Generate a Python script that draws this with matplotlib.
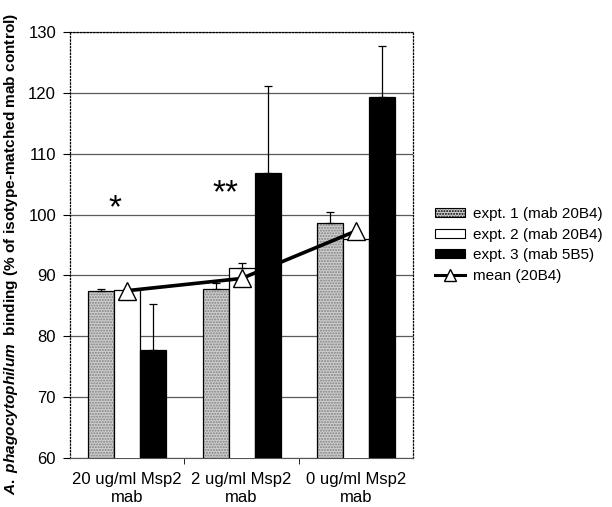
import matplotlib
matplotlib.use("Agg")
import matplotlib.pyplot as plt
import numpy as np

plt.rcParams["font.family"] = ["Liberation Sans", "DejaVu Sans"]
plt.rcParams["mathtext.fontset"] = "custom"
plt.rcParams["mathtext.it"] = "Liberation Sans:italic:bold"
plt.rcParams["mathtext.rm"] = "Liberation Sans:bold"

# ---- data -----------------------------------------------------------------------
groups = ["20 ug/ml Msp2\nmab", "2 ug/ml Msp2\nmab", "0 ug/ml Msp2\nmab"]
expt1 = [87.4, 87.7, 98.6]
expt1_err = [0.4, 1.0, 1.8]
expt2 = [87.6, 91.2, 96.0]
expt2_err = [0.2, 0.8, 0.4]
expt3 = [77.8, 106.8, 119.4]
expt3_err = [7.5, 14.4, 8.3]
mean_20b4 = [87.5, 89.5, 97.3]
stars = ["*", "**"]
star_y = [99.6, 102.0]

x = np.arange(len(groups))
w = 0.2275

fig = plt.figure(figsize=(6.12, 5.07), dpi=100)
ax = fig.add_axes([0.1144, 0.0966, 0.5606, 0.8403])

for y in range(60, 131, 10):
    ax.axhline(y, color="#5a5a5a", lw=0.9, zorder=0)

ekw = dict(ecolor="black", elinewidth=0.9, capsize=3, capthick=0.9)
# expt 1: stippled grey
ax.bar(x - w, expt1, w, color="#cfcfcf", hatch="......", edgecolor="#808080", lw=0, zorder=2)
ax.bar(x - w, expt1, w, fill=False, edgecolor="black", lw=0.9, zorder=3,
       yerr=[np.zeros(3), expt1_err], error_kw=ekw)
ax.bar(x, expt2, w, color="white", edgecolor="black", lw=0.9, zorder=3,
       yerr=[np.zeros(3), expt2_err], error_kw=ekw)
ax.bar(x + w, expt3, w, color="black", edgecolor="black", lw=0.9, zorder=3,
       yerr=[np.zeros(3), expt3_err], error_kw=ekw)
ax.plot(x, mean_20b4, color="black", lw=2.6, marker="^", ms=13, mfc="white",
        mec="black", mew=1.0, zorder=5)

for xs, s, ys in zip([-0.106, 0.862], stars, star_y):
    ax.text(xs, ys, s, fontsize=24, ha="center", va="baseline", zorder=6)

ax.set_xlim(-0.5, 2.5)
ax.set_ylim(60, 130)
ax.set_yticks(range(60, 131, 10))
ax.set_xticks(x)
ax.set_xticklabels(groups, fontsize=12, linespacing=1.25)
ax.set_xticks([0.5, 1.5], minor=True)
ax.tick_params(axis="x", which="major", length=0, pad=10)
ax.tick_params(axis="x", which="minor", length=4, direction="out")
ax.tick_params(axis="y", labelsize=12, length=5, direction="out", pad=5)

for side in ("left", "top", "right"):
    ax.spines[side].set_linestyle(":")
    ax.spines[side].set_linewidth(0.9)
ax.spines["bottom"].set_color("#555555")

ax.set_ylabel(r"$\mathit{A.\ phagocytophilum}$  binding (% of isotype-matched mab control)",
              fontsize=11.1, fontweight="bold")
ax.yaxis.set_label_coords(-0.146, 0.479)

from matplotlib.patches import Patch
from matplotlib.lines import Line2D
handles = [
    Patch(facecolor="#cfcfcf", edgecolor="black", hatch="......", lw=0.8),
    Patch(facecolor="white", edgecolor="black", lw=0.8),
    Patch(facecolor="black", edgecolor="black", lw=0.8),
    Line2D([], [], color="black", lw=2.2, marker="^", ms=9, mfc="white", mec="black"),
]
labels = ["expt. 1 (mab 20B4)", "expt. 2 (mab 20B4)", "expt. 3 (mab 5B5)", "mean (20B4)"]
fig.legend(handles, labels, loc="center left", bbox_to_anchor=(0.711, 0.517),
           frameon=False, fontsize=11, handlelength=1.96, handleheight=0.55,
           handletextpad=0.5, labelspacing=0.42, borderpad=0, borderaxespad=0)

fig.savefig("out.png", dpi=100, facecolor="white")
